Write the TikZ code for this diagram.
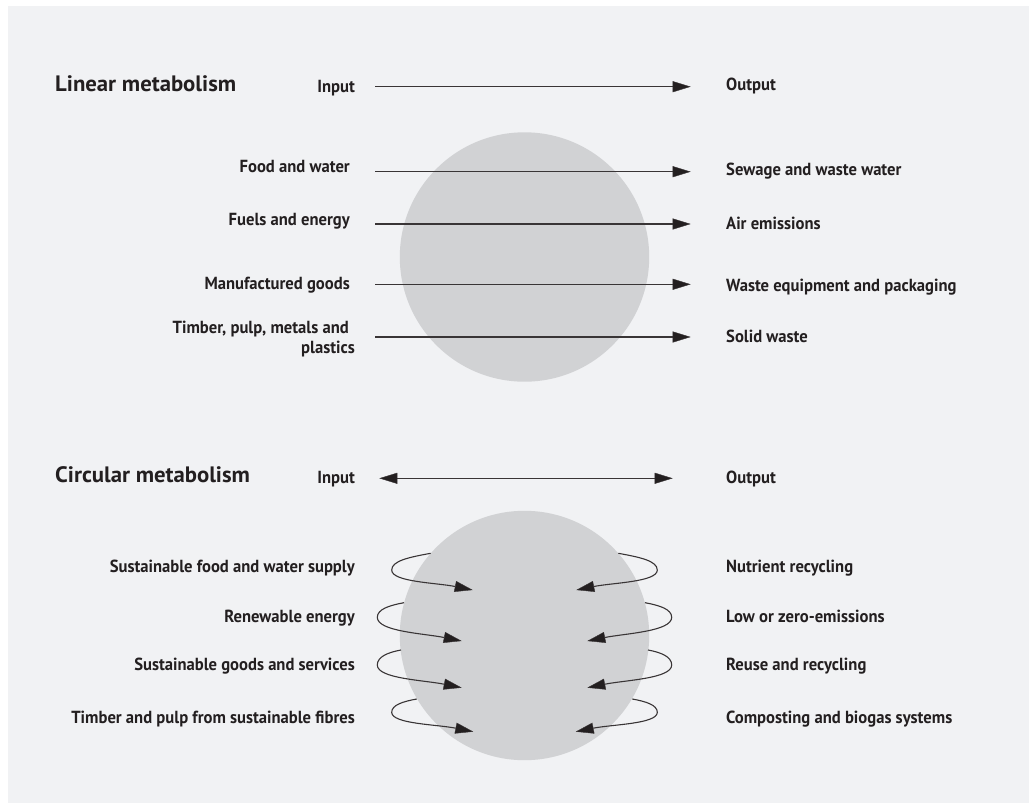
\documentclass[tikz,border=0pt]{standalone}
\usepackage{fontspec}
\setmainfont{PT Sans}[FakeStretch=0.95]
\newfontfamily\headfont{PT Sans}[FakeStretch=1.02]
\usetikzlibrary{arrows.meta,calc}
\definecolor{panel}{HTML}{F1F2F4}
\definecolor{disc}{HTML}{D1D2D4}
\definecolor{ink}{HTML}{231F20}

\tikzset{
  lbl/.style={font=\bfseries\fontsize{17.5}{20}\selectfont, text=ink, inner sep=0pt},
  lblL/.style={lbl, anchor=base east},
  lblR/.style={lbl, anchor=base west},
  ttl/.style={font=\headfont\bfseries\fontsize{22.3}{26}\selectfont, text=ink, inner sep=0pt, anchor=base west},
  head/.tip={Triangle[length=18pt,width=11pt,fill=ink,line width=0.4pt]},
  flow/.style={draw=ink!90, line width=1.2pt, -{head}},
  swap/.style={draw=ink!90, line width=1.2pt, {head}-{head}},
  cyc/.style={draw=ink!90, line width=1.1pt, -{head}},
  discstyle/.style={circle, fill=disc, minimum size=249.4pt, inner sep=0pt}
}

% one returning loop: start on the disc rim, turning point, arrow tip
\newcommand\returnloop[7]{%
  \coordinate (#1s) at (#2,#3);
  \coordinate (#1m) at (#4,#5);
  \coordinate (#1t) at (#6,#7);
  \pgfmathsetmacro\dxa{#2-#4}
  \pgfmathsetmacro\dxb{#6-#4}
  \draw[cyc] (#1s)
    .. controls ({#2-0.55*\dxa},{#3+0.1*abs(\dxa)}) and ({#4},{#5-0.55*(#5-#3)}) .. (#1m)
    .. controls ({#4},{#5+0.6*(#7-#5)}) and ({#6-0.45*\dxb},{#7-0.09*abs(\dxb)}) .. (#1t);
}

\begin{document}
\begin{tikzpicture}[x=1pt,y=-1pt]
  \useasboundingbox (0,0) rectangle (1029,803);
  \fill[panel] (8,6) rectangle (1029,803);

  % ---------- linear metabolism ----------
  \node[ttl] (tlin) at (55,91) {Linear metabolism};
  \node[discstyle] (disc1) at (524.5,257) {};

  \node[lblL] (lin0) at (355,92.7) {Input};
  \node[lblR] (lout0) at (726,90.7) {Output};
  \coordinate (la0) at (375,86.7);  \coordinate (lb0) at (690.7,86.7);
  \draw[flow] (la0) -- (lb0);

  \node[lblL] (lin1) at (350,172.3) {Food and water};
  \node[lblR] (lout1) at (726,175) {Sewage and waste water};
  \coordinate (la1) at (375,171.7); \coordinate (lb1) at (690.7,171.7);
  \draw[flow] (la1) -- (lb1);

  \node[lblL] (lin2) at (350,225) {Fuels and energy};
  \node[lblR] (lout2) at (726,229) {Air emissions};
  \coordinate (la2) at (375,224); \coordinate (lb2) at (690.7,224);
  \draw[flow] (la2) -- (lb2);

  \node[lblL] (lin3) at (350,289.3) {Manufactured goods};
  \node[lblR] (lout3) at (726,291.7) {Waste equipment and packaging};
  \coordinate (la3) at (375,284.3); \coordinate (lb3) at (690.7,284.3);
  \draw[flow] (la3) -- (lb3);

  \node[lbl, align=right, anchor=east] (lin4) at (355,339) {Timber, pulp, metals and\hspace*{6pt}\\plastics};
  \node[lblR] (lout4) at (726,342) {Solid waste};
  \coordinate (la4) at (375,337); \coordinate (lb4) at (690.7,337);
  \draw[flow] (la4) -- (lb4);

  % ---------- circular metabolism ----------
  \node[ttl] (tcir) at (55,482.7) {Circular metabolism};
  \node[discstyle] (disc2) at (524.5,635.5) {};

  \node[lblL] (cin0) at (355,483.3) {Input};
  \node[lblR] (cout0) at (726,483.3) {Output};
  \coordinate (ca0) at (379.3,478.3); \coordinate (cb0) at (672.7,478.3);
  \draw[swap] (ca0) -- (cb0);

  \node[lblL] (cin1) at (355,572.7) {Sustainable food and water supply};
  \node[lblL] (cin2) at (355,622.7) {Renewable energy};
  \node[lblL] (cin3) at (355,670.7) {Sustainable goods and services};
  \node[lblL] (cin4) at (355,723.3) {Timber and pulp from sustainable fibres};

  \node[lblR] (cout1) at (726,572.7) {Nutrient recycling};
  \node[lblR] (cout2) at (726,622.7) {Low or zero-emissions};
  \node[lblR] (cout3) at (726,670.7) {Reuse and recycling};
  \node[lblR] (cout4) at (726,723.3) {Composting and biogas systems};

  % loops on the left rim
  \returnloop{pa}{430.7}{553.3}{391.7}{570}{472.7}{590}
  \returnloop{pb}{404}{602.7}{377.3}{617.3}{461.7}{641}
  \returnloop{pc}{401}{650}{377.3}{665}{461.7}{687.7}
  \returnloop{pd}{416.7}{699}{391.7}{712.3}{473.3}{731.7}
  % loops on the right rim
  \returnloop{qa}{618.3}{553.3}{657.3}{570}{576.3}{590}
  \returnloop{qb}{645}{602.7}{671.7}{617.3}{587.3}{641}
  \returnloop{qc}{648}{650}{671.7}{665}{587.3}{687.7}
  \returnloop{qd}{632.3}{699}{657.3}{712.3}{575.7}{731.7}
\end{tikzpicture}
\end{document}
